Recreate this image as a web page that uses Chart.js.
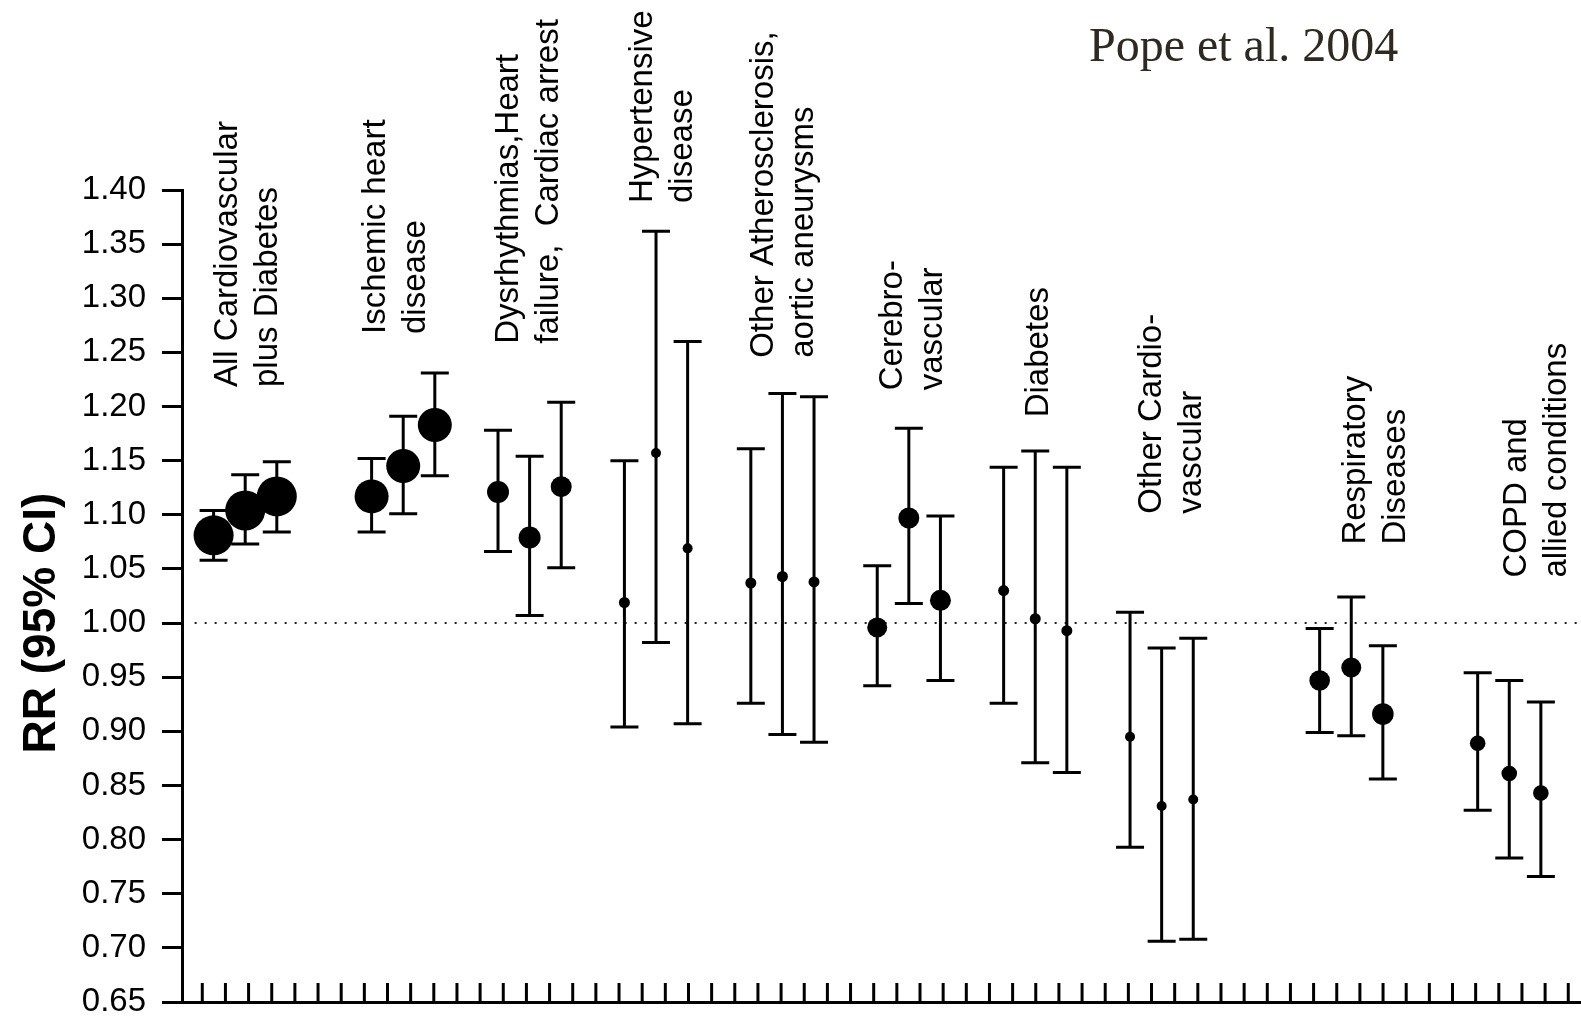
<!DOCTYPE html>
<html>
<head>
<meta charset="utf-8">
<script src="https://cdn.jsdelivr.net/npm/chart.js@4.4.1/dist/chart.umd.min.js"></script>
<style>
  html, body { margin: 0; padding: 0; background: #fff; }
  #wrap { width: 1581px; height: 1017px; }
</style>
</head>
<body>
<div id="wrap"><canvas id="grafico"></canvas></div>
<script>
// categorias (texto girado acima de cada grupo de 3 estimativas)
const grupos = [
  ["All Cardiovascular", "plus Diabetes"],
  ["Ischemic heart", "disease"],
  ["Dysrhythmias,Heart", "failure,  Cardiac arrest"],
  ["Hypertensive", "disease"],
  ["Other Atherosclerosis,", "aortic aneurysms"],
  ["Cerebro-", "vascular"],
  ["Diabetes"],
  ["Other Cardio-", "vascular"],
  ["Respiratory", "Diseases"],
  ["COPD and", "allied conditions"]
];
// posicao (slot do eixo x) da primeira estimativa de cada grupo
const inicioGrupo = [1, 6, 10, 14, 18, 22, 26, 30, 36, 41];

// RR e IC 95% (3 estimativas por grupo)
const rr = [1.081, 1.104, 1.117, 1.117, 1.145, 1.183, 1.121, 1.079, 1.126,
  1.019, 1.157, 1.069, 1.037, 1.043, 1.038, 0.996, 1.097, 1.021,
  1.030, 1.004, 0.993, 0.895, 0.831, 0.837, 0.947, 0.959, 0.916,
  0.889, 0.861, 0.843];
const inferior = [1.058, 1.073, 1.084, 1.084, 1.101, 1.136, 1.066, 1.007, 1.051,
  0.904, 0.982, 0.907, 0.926, 0.897, 0.890, 0.942, 1.018, 0.947,
  0.926, 0.871, 0.862, 0.793, 0.706, 0.708, 0.899, 0.896, 0.856,
  0.827, 0.783, 0.766];
const superior = [1.104, 1.137, 1.149, 1.152, 1.191, 1.231, 1.178, 1.154, 1.204,
  1.150, 1.362, 1.260, 1.161, 1.212, 1.209, 1.053, 1.180, 1.099,
  1.144, 1.159, 1.144, 1.010, 0.977, 0.986, 0.995, 1.024, 0.979,
  0.954, 0.947, 0.927];

// eixo y
const yMin = 0.65;
const yMax = 1.40;
const yPasso = 0.05;
const yTitulo = "RR (95% CI)";

// estilo: raio de cada marcador
const raio = [20, 20, 20, 17, 17, 17, 11, 11, 10.5, 5.5, 5, 5, 5.5, 5.5, 5.5,
  10, 10.5, 10.5, 5.5, 5.5, 5.5, 5, 5, 5, 10.3, 10, 10.8, 7.8, 7.8, 7.8];

// ancoragem dos rotulos (linha de base da 1a linha, em unidades dos eixos)
const rotuloX = [1.73, 6.41, 10.62, 14.86, 18.69, 22.77, 27.39, 30.99, 37.44, 42.52];
const rotuloY = [1.218, 1.267, 1.258, 1.388, 1.245, 1.215, 1.190, 1.101, 1.0725, 1.042];

const posicoes = [];
inicioGrupo.forEach(s => { posicoes.push(s, s + 1, s + 2); });

const fonte = '"Liberation Sans", Arial, sans-serif';

const marcas = {
  id: "marcas",
  beforeDatasetsDraw(chart) {
    const { ctx, chartArea } = chart;
    const x = chart.scales.x, y = chart.scales.y;
    ctx.save();
    // linha pontilhada em RR = 1
    ctx.strokeStyle = "#222";
    ctx.lineWidth = 2;
    ctx.setLineDash([2, 8]);
    ctx.beginPath();
    ctx.moveTo(x.getPixelForValue(0.4), y.getPixelForValue(1));
    ctx.lineTo(chartArea.right - 3, y.getPixelForValue(1));
    ctx.stroke();
    ctx.setLineDash([]);
    // barras de erro
    ctx.strokeStyle = "#000";
    ctx.lineWidth = 3;
    posicoes.forEach((p, i) => {
      const px = x.getPixelForValue(p);
      const topo = y.getPixelForValue(superior[i]);
      const base = y.getPixelForValue(inferior[i]);
      ctx.beginPath();
      ctx.moveTo(px, topo); ctx.lineTo(px, base);
      ctx.moveTo(px - 14, topo); ctx.lineTo(px + 14, topo);
      ctx.moveTo(px - 14, base); ctx.lineTo(px + 14, base);
      ctx.stroke();
    });
    ctx.restore();
  },
  afterDraw(chart) {
    const { ctx, chartArea } = chart;
    const x = chart.scales.x, y = chart.scales.y, xt = chart.scales.xt;
    ctx.save();
    // marcas internas do eixo x
    ctx.strokeStyle = "#000";
    ctx.lineWidth = 3;
    xt.ticks.forEach(t => {
      if (!Number.isInteger(t.value)) return;
      const px = xt.getPixelForValue(t.value);
      ctx.beginPath();
      ctx.moveTo(px, chartArea.bottom);
      ctx.lineTo(px, chartArea.bottom - 19);
      ctx.stroke();
    });
    // titulo do eixo y (centrado em RR = 1, como no original)
    ctx.fillStyle = "#000";
    ctx.font = "bold 46px " + fonte;
    ctx.textAlign = "center";
    ctx.textBaseline = "middle";
    ctx.save();
    ctx.translate(42, y.getPixelForValue(1.0));
    ctx.rotate(-Math.PI / 2);
    ctx.fillText(yTitulo, 0, 0);
    ctx.restore();
    // rotulos das categorias
    ctx.font = "33px " + fonte;
    ctx.textAlign = "left";
    ctx.textBaseline = "alphabetic";
    grupos.forEach((linhas, g) => {
      const bx = x.getPixelForValue(rotuloX[g]);
      const by = y.getPixelForValue(rotuloY[g]);
      linhas.forEach((t, k) => {
        ctx.save();
        ctx.translate(bx + k * 40, by);
        ctx.rotate(-Math.PI / 2);
        ctx.fillText(t, 0, 0);
        ctx.restore();
      });
    });
    // citacao
    ctx.fillStyle = "#2e2a22";
    ctx.font = '48px "Liberation Serif", "Times New Roman", serif';
    ctx.fillText("Pope et al. 2004", x.getPixelForValue(28.7), y.getPixelForValue(1.519));
    ctx.restore();
  }
};

new Chart(document.getElementById("grafico"), {
  type: "scatter",
  data: {
    datasets: [{
      data: posicoes.map((p, i) => ({ x: p, y: rr[i] })),
      backgroundColor: "#000",
      borderWidth: 0,
      pointRadius: raio,
      pointHoverRadius: raio
    }]
  },
  options: {
    responsive: true,
    maintainAspectRatio: false,
    animation: false,
    layout: { autoPadding: false, padding: { top: 190, right: 0, bottom: 0, left: 0 } },
    plugins: { legend: { display: false }, tooltip: { enabled: false } },
    scales: {
      x: {
        type: "linear", min: 0, max: 44.27, position: "bottom",
        ticks: { display: false },
        grid: { display: false, drawTicks: false },
        border: { display: true, color: "#000", width: 3 },
        afterFit: s => { s.height = 15; }
      },
      xt: {
        type: "linear", min: -0.876, max: 59.55, position: "bottom",
        ticks: { display: false, stepSize: 1, includeBounds: false },
        grid: { display: false, drawTicks: false },
        border: { display: false },
        afterFit: s => { s.height = 0; }
      },
      y: {
        min: yMin, max: yMax,
        ticks: {
          stepSize: yPasso,
          callback: v => v.toFixed(2),
          color: "#000",
          font: { family: fonte, size: 33, lineHeight: 1 },
          padding: 16
        },
        grid: { drawOnChartArea: false, drawTicks: true, tickLength: 20, tickWidth: 3, tickColor: "#000" },
        border: { display: true, color: "#000", width: 3 },
        title: { display: false },
        afterFit: s => { s.width = 182; s.paddingTop = 0; s.paddingBottom = 0; }
      }
    }
  },
  plugins: [marcas]
});
</script>
</body>
</html>
